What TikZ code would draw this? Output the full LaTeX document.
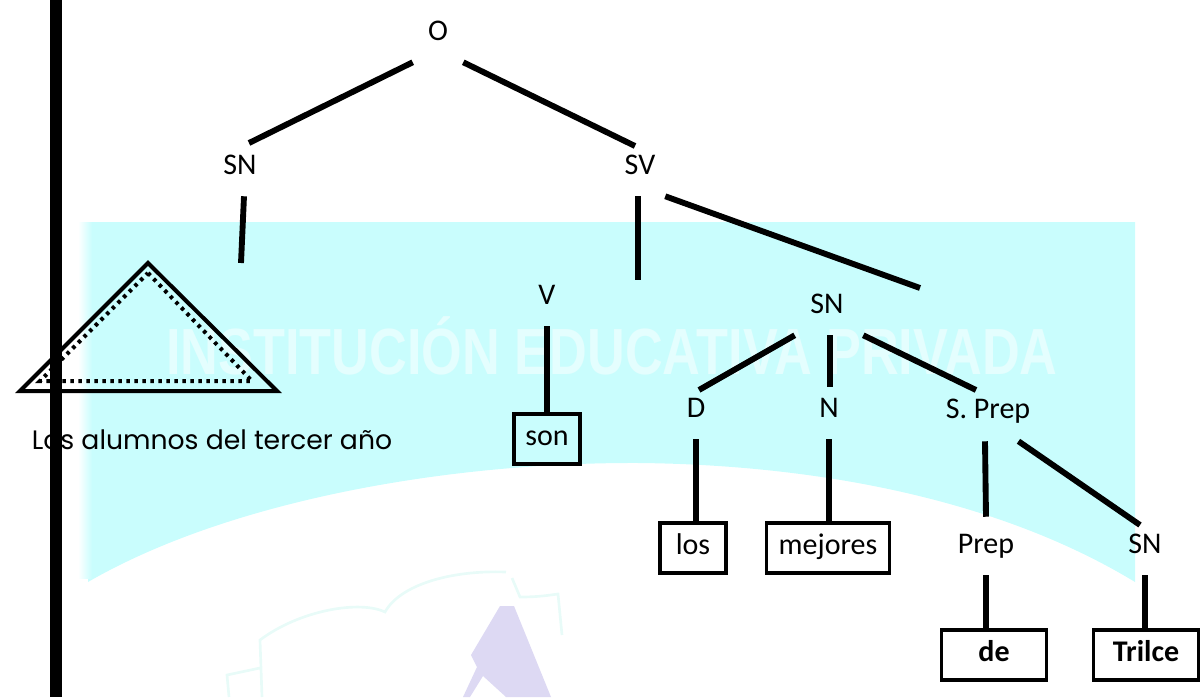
\documentclass[tikz,border=0pt]{standalone}
\usepackage{fontspec}
\setmainfont{Carlito}
\newfontfamily\marcafont{Liberation Sans}
\newfontfamily\fraseFont{Poppins}
\definecolor{fondo}{HTML}{C9FDFD}
\definecolor{libro}{HTML}{E8FBF8}
\definecolor{letraA}{HTML}{DDD9F3}
\tikzstyle{rama}=[line width=4.4pt]
\tikzstyle{etiqueta}=[inner sep=0pt, minimum width=37.5pt, minimum height=43.5pt, text height=1.25em, text depth=0.2em, font=\fontsize{22.5}{26}\selectfont]
\tikzstyle{caja}=[draw, line width=2.5pt, inner sep=0pt, minimum height=37.5pt, text height=1.15em, text depth=0.2em, font=\fontsize{22.5}{26}\selectfont]
\tikzstyle{cajafuerte}=[caja, font=\fontsize{22.5}{26}\selectfont\bfseries]

\begin{document}
\begin{tikzpicture}[x=0.75pt, y=-0.75pt]
\useasboundingbox (0,0) rectangle (1200,697);
% Watermark
    \fill[fondo] (88,222) -- (1135,222) -- (1135,582) .. controls (1000,500) and (820,465) .. (640,463)
        .. controls (450,462) and (230,500) .. (88,582) -- cycle;
    \shade[left color=white, right color=fondo] (78,222) rectangle (92,578);
    \node[inner sep=0pt, text=white, opacity=0.5, xscale=0.8, font=\fontsize{49}{56}\marcafont\bfseries] (marca) at (612,346) {INSTITUCIÓN EDUCATIVA PRIVADA};
    \draw[libro, line width=2pt] (229,697) -- (227,675) -- (260,668) (262,697) -- (260,640) .. controls (300,610) and (360,600) .. (385,612)
        .. controls (400,585) and (450,570) .. (506,572) (512,578) -- (520,597) .. controls (540,597) and (550,595) .. (558,594) -- (562,635);
    \fill[letraA] (500,606) -- (471,655) -- (477,667) -- (463,697) -- (470,697) -- (483,676) -- (506,697) -- (551,697) -- (514,606) -- cycle;
% Labels
    \node[etiqueta] (o) at (438,33) {O};
    \node[etiqueta] (snuno) at (240,167) {SN};
    \node[etiqueta] (sv) at (640,167) {SV};
    \node[etiqueta] (v) at (547,297) {V};
    \node[etiqueta] (sndos) at (827,306) {SN};
    \node[etiqueta] (d) at (696,410) {D};
    \node[etiqueta] (n) at (829,410) {N};
    \node[etiqueta] (sprep) at (988,411) {S. Prep};
    \node[etiqueta] (prep) at (986,546) {Prep};
    \node[etiqueta] (sntres) at (1145,546) {SN};
% Boxes
    \node[caja, minimum width=49.5pt] (son) at (547,439) {son};
    \node[caja, minimum width=49.5pt] (los) at (693,548) {los};
    \node[caja, minimum width=92pt] (mejores) at (828,548) {mejores};
    \node[cajafuerte, minimum width=79pt] (de) at (994,655) {de};
    \node[cajafuerte, minimum width=79pt] (trilce) at (1146,655) {Trilce};
% Free ends
    \coordinate (finsnuno) at (249,143);
    \coordinate (finsv) at (635,146);
    \coordinate (fintri) at (241,263);
    \coordinate (finv) at (638,280);
    \coordinate (finsn) at (920,288);
    \coordinate (find) at (699,390);
    \coordinate (finn) at (830,387);
    \coordinate (finsp) at (976,390);
    \coordinate (finsnt) at (1140,525);
% Branches
    \draw[rama] (o.south west) -- (finsnuno);
    \draw[rama] (o.south east) -- (finsv);
    \draw[rama] (snuno.south) ++(4,0) -- (fintri);
    \draw[rama] (sv.south) ++(-2,0) -- (finv);
    \draw[rama] (sv.south east) -- (finsn);
    \draw[rama] (v.south) -- (v.south |- son.north);
    \draw[rama] (sndos.south west) ++(-7,0) -- (find);
    \draw[rama] (sndos.south) ++(3,0) -- (finn);
    \draw[rama] (sndos.south east) ++(11,0) -- (finsp);
    \draw[rama] (d.south) -- (d.south |- los.north);
    \draw[rama] (n.south) -- (n.south |- mejores.north);
    \draw[rama] (sprep.south) ++(-3,1) -- (prep.north);
    \draw[rama] (sprep.south east) ++(-12,1) -- (finsnt);
    \draw[rama] (prep.south) -- (prep.south |- de.north);
    \draw[rama] (sntres.south) -- (sntres.south |- trilce.north);
% Triangle
    \draw[line width=3pt, miter limit=10] (148,263) -- (277,391) -- (20,391) -- cycle;
    \draw[line width=3pt, dash pattern=on 2.6pt off 3.4pt] (148,273) -- (252,381) -- (40,381) -- cycle;
    \node[inner sep=0pt, font=\fraseFont\fontsize{20}{24}\selectfont] (frase) at (212,440) {Los alumnos del tercer año};
% Bar
    \fill (50,0) rectangle (62,697);
\end{tikzpicture}
\end{document}
